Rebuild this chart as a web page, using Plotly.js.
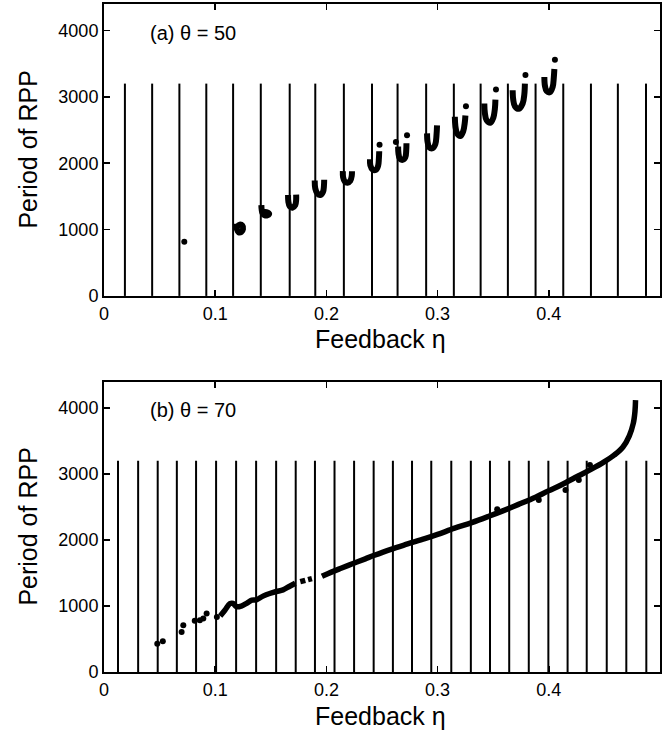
<!DOCTYPE html>
<html><head><meta charset="utf-8">
<script src="https://cdn.plot.ly/plotly-3.0.1.min.js"></script>
<style>body{margin:0;background:#fff}#chart{width:664px;height:736px}</style>
</head><body><div id="chart"></div>
<script>
// ---------- data ----------
const xTickVals = [0, 0.1, 0.2, 0.3, 0.4];
const xTickText = ['0', '0.1', '0.2', '0.3', '0.4'];
const yTickVals = [0, 1000, 2000, 3000, 4000];
const yTickText = ['0', '1000', '2000', '3000', '4000'];
const xTitle = 'Feedback η';
const yTitle = 'Period of RPP';
const panelLabels = ['(a) θ = 50', '(b) θ = 70'];
const lineTop = 3200;

// panel (a) theta = 50: vertical marker lines
const linesA = [0.0188,0.0433,0.0678,0.0920,0.1161,0.1410,0.1670,0.1900,0.2157,0.2410,
                0.2640,0.2897,0.3146,0.3387,0.3632,0.3881,0.4130,0.4379,0.4621,0.4874];
// panel (a) clusters (null separates clusters)
const etaA = [0.1185,0.1195,0.121,0.1235,0.125,0.1245,0.122,0.1195,null,
              0.1415,0.1418,0.1425,0.1445,0.147,0.1485,0.146,0.143,null,
              0.1655,0.1658,0.167,0.1695,0.172,0.1728,0.1728,null,
              0.1895,0.19,0.192,0.1945,0.197,0.1978,0.198,null,
              0.2148,0.215,0.2165,0.219,0.2215,0.2228,0.223,null,
              0.2392,0.2395,0.2415,0.2445,0.2465,0.2472,0.2475,null,
              0.2645,0.2648,0.266,0.2685,0.271,0.2718,0.272,null,
              0.2905,0.291,0.2925,0.2955,0.298,0.299,0.2995,null,
              0.3155,0.316,0.3175,0.3205,0.323,0.3245,0.325,null,
              0.342,0.3425,0.344,0.3475,0.350,0.3515,0.352,null,
              0.3675,0.368,0.3695,0.373,0.3765,0.378,0.3785,null,
              0.396,0.3965,0.398,0.401,0.4035,0.4045,0.405];
const perA = [1090,1010,960,965,1010,1060,1075,1040,null,
              1370,1300,1250,1215,1215,1240,1265,1270,null,
              1520,1420,1350,1330,1370,1450,1525,null,
              1740,1620,1540,1520,1570,1660,1750,null,
              1880,1790,1725,1705,1735,1810,1880,null,
              2060,1970,1905,1900,1960,2070,2180,null,
              2250,2150,2070,2050,2090,2200,2300,null,
              2450,2320,2240,2225,2290,2420,2570,null,
              2700,2560,2450,2410,2480,2620,2720,null,
              2900,2760,2650,2610,2680,2820,2960,null,
              3100,2960,2860,2820,2900,3040,3200,null,
              3300,3170,3090,3070,3150,3290,3420];
const dotEtaA = [0.0722,0.2478,0.2625,0.2725,0.3255,0.3525,0.379,0.4055];
const dotPerA = [815,2280,2320,2420,2860,3110,3330,3560];

// panel (b) theta = 70
const linesB = [0.0126,0.0307,0.0483,0.0655,0.0828,0.1008,0.1188,0.1368,0.1548,0.1724,
                0.1897,0.2073,0.2249,0.2425,0.2598,0.2770,0.2943,0.3123,0.3299,0.3471,
                0.3644,0.3820,0.3996,0.4169,0.4341,0.4521,0.4697,0.4877];
const etaB = [0.1045,0.1087,0.1132,0.116,0.1192,0.1235,0.1282,0.133,0.137,0.143,0.149,0.155,0.161,0.167,0.172,null,
              0.1765,0.181,null,
              0.1835,0.187,null,
              0.196,0.204,0.212,0.2234,0.235,0.2425,0.258,0.273,0.2885,0.300,0.3153,0.3307,0.346,0.3575,
              0.3728,0.3881,0.3996,0.4111,0.4264,0.4379,0.4494,0.459,0.4667,0.4724,0.476,0.4775,0.478];
const perB = [850,937,1035,1040,990,1000,1040,1090,1095,1150,1190,1220,1245,1300,1345,null,
              1370,1390,null,
              1400,1415,null,
              1450,1510,1565,1640,1715,1765,1860,1940,2020,2085,2180,2265,2360,2435,
              2540,2650,2745,2835,2970,3070,3180,3290,3410,3580,3770,3950,4120];
const dotEtaB = [0.0479,0.0529,0.0698,0.0713,0.0816,0.0862,0.0893,0.0923,0.1015,0.3536,0.391,0.415,0.427,0.437];
const dotPerB = [430,466,607,709,775,785,810,886,835,2466,2608,2760,2911,3139];

// ---------- helpers ----------
function vlines(xs, top) {
  const x = [], y = [];
  xs.forEach(v => { x.push(v, v, null); y.push(0, top, null); });
  return {x, y};
}
const vA = vlines(linesA, lineTop), vB = vlines(linesB, lineTop);
const FONT = '"Liberation Sans", Arial, Helvetica, sans-serif';

const traces = [
  {x: vA.x, y: vA.y, xaxis: 'x', yaxis: 'y', mode: 'lines', line: {color: '#000', width: 2}, hoverinfo: 'skip'},
  {x: etaA, y: perA, xaxis: 'x', yaxis: 'y', mode: 'lines', line: {color: '#000', width: 6, shape: 'spline'}},
  {x: dotEtaA, y: dotPerA, xaxis: 'x', yaxis: 'y', mode: 'markers', marker: {color: '#000', size: 6}},
  {x: vB.x, y: vB.y, xaxis: 'x2', yaxis: 'y2', mode: 'lines', line: {color: '#000', width: 2}, hoverinfo: 'skip'},
  {x: etaB, y: perB, xaxis: 'x2', yaxis: 'y2', mode: 'lines', line: {color: '#000', width: 5.5, shape: 'spline'}},
  {x: dotEtaB, y: dotPerB, xaxis: 'x2', yaxis: 'y2', mode: 'markers', marker: {color: '#000', size: 6}}
];

function xax(anchor) {
  return {anchor: anchor, range: [0, 0.5], tickvals: xTickVals, ticktext: xTickText,
    ticks: 'inside', ticklen: 6, tickwidth: 1.5, tickcolor: '#000', mirror: 'allticks',
    showline: true, linewidth: 2, linecolor: '#000', showgrid: false, zeroline: false,
    tickfont: {family: FONT, size: 18, color: '#000'}};
}
function yax(anchor, domain) {
  return {anchor: anchor, domain: domain, range: [0, 4400], tickvals: yTickVals, ticktext: yTickText,
    ticks: 'inside', ticklen: 6, tickwidth: 1.5, tickcolor: '#000', mirror: 'allticks',
    showline: true, linewidth: 2, linecolor: '#000', showgrid: false, zeroline: false,
    tickfont: {family: FONT, size: 18, color: '#000'}};
}
const titleFont = {family: FONT, size: 25, color: '#000'};

const layout = {
  width: 664, height: 736, showlegend: false,
  paper_bgcolor: '#fff', plot_bgcolor: '#fff',
  margin: {l: 104, r: 4, t: 4, b: 64},
  xaxis: xax('y'), yaxis: yax('x', [0.563, 1]),
  xaxis2: xax('y2'), yaxis2: yax('x2', [0, 0.4346]),
  annotations: [
    {xref: 'x', yref: 'y', x: 0.04, y: 3970, xanchor: 'left', yanchor: 'middle', showarrow: false,
     text: panelLabels[0], font: {family: FONT, size: 20, color: '#000'}},
    {xref: 'x2', yref: 'y2', x: 0.04, y: 3970, xanchor: 'left', yanchor: 'middle', showarrow: false,
     text: panelLabels[1], font: {family: FONT, size: 20, color: '#000'}},
    {xref: 'paper', yref: 'paper', x: 0.498, y: 0.4985, xanchor: 'center', yanchor: 'middle', showarrow: false,
     text: xTitle, font: titleFont},
    {xref: 'paper', yref: 'paper', x: 0.498, y: -0.0659, xanchor: 'center', yanchor: 'middle', showarrow: false,
     text: xTitle, font: titleFont},
    {xref: 'paper', yref: 'paper', x: -0.1375, y: 0.7814, xanchor: 'center', yanchor: 'middle', showarrow: false,
     textangle: -90, text: yTitle, font: titleFont},
    {xref: 'paper', yref: 'paper', x: -0.1375, y: 0.217, xanchor: 'center', yanchor: 'middle', showarrow: false,
     textangle: -90, text: yTitle, font: titleFont}
  ]
};
Plotly.newPlot('chart', traces, layout, {staticPlot: true});
</script></body></html>
